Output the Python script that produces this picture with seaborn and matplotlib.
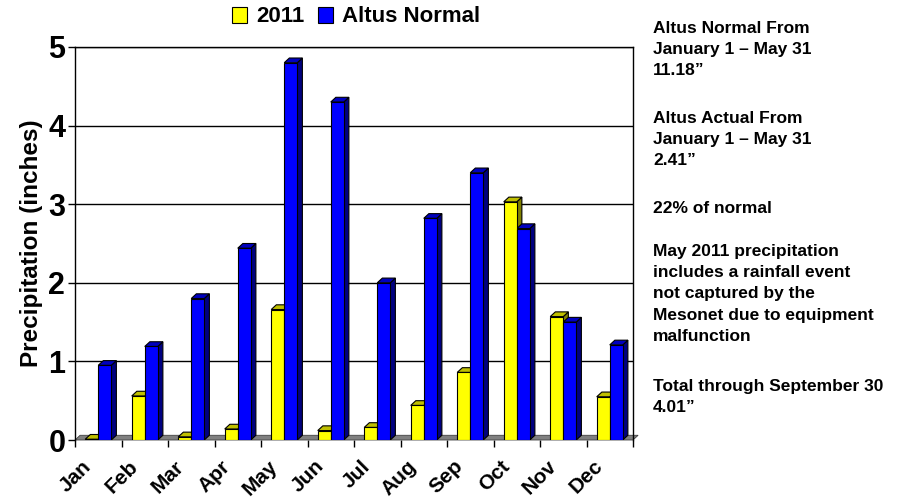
import numpy as np
import pandas as pd
import seaborn as sns
import matplotlib.pyplot as plt
import matplotlib.transforms as mtransforms
from matplotlib.patches import Polygon, Patch
from matplotlib.colors import to_rgb

# monthly precipitation at Altus (inches)
months = ['Jan', 'Feb', 'Mar', 'Apr', 'May', 'Jun',
          'Jul', 'Aug', 'Sep', 'Oct', 'Nov', 'Dec']
precip_2011 = [0.01, 0.56, 0.04, 0.14, 1.66, 0.12, 0.16, 0.44, 0.86, 3.03, 1.57, 0.55]
altus_normal = [0.95, 1.19, 1.80, 2.44, 4.80, 4.30, 2.00, 2.82, 3.40, 2.69, 1.50, 1.21]
series = ['2011', 'Altus Normal']
colors_ = ['#FFFF00', '#0000FF']

notes = [
    "Altus Normal From\nJanuary 1 \u2013 May 31\n11.18\u201d",
    "Altus Actual From\nJanuary 1 \u2013 May 31\n2.41\u201d",
    "22% of normal",
    "May 2011 precipitation\nincludes a rainfall event\nnot captured by the\nMesonet due to equipment\nmalfunction",
    "Total through September 30\n4.01\u201d",
]
note_tops = [21, 111, 201, 244, 379]   # pixel rows of each paragraph

df = pd.DataFrame({
    'Month': months * 2,
    'Precip': precip_2011 + altus_normal,
    'Series': [series[0]] * 12 + [series[1]] * 12,
})

sns.set_style('white')
plt.rcParams['font.family'] = ['Liberation Sans', 'DejaVu Sans']
plt.rcParams['font.weight'] = 'bold'
for k in ['text.color', 'axes.labelcolor', 'xtick.color', 'ytick.color']:
    plt.rcParams[k] = 'black'

W, H = 903, 501
fig = plt.figure(figsize=(W / 100, H / 100), dpi=100)
ax = fig.add_axes([75 / W, 1 - 440 / H, (633 - 75) / W, (440 - 47) / H])

sns.barplot(data=df, x='Month', y='Precip', hue='Series', palette=colors_,
            width=0.56, gap=0, edgecolor='black', linewidth=0.8,
            saturation=1, legend=False, ax=ax, zorder=3)

ax.set_xlim(-0.5, 11.5)
ax.set_ylim(0, 5)

# fake 3D depth for each bar
dx, dy = 0.11, 0.06
for p in list(ax.patches):
    x0, w, h = p.get_x(), p.get_width(), p.get_height()
    if np.isnan(h):
        continue
    base = np.array(to_rgb(p.get_facecolor()))
    side = Polygon([(x0 + w, 0), (x0 + w + dx, dy), (x0 + w + dx, h + dy), (x0 + w, h)],
                   closed=True, facecolor=base * 0.5, edgecolor='black', lw=0.8, zorder=2.9)
    top = Polygon([(x0, h), (x0 + dx, h + dy), (x0 + w + dx, h + dy), (x0 + w, h)],
                  closed=True, facecolor=base * 0.75, edgecolor='black', lw=0.8, zorder=2.9)
    ax.add_patch(side)
    ax.add_patch(top)

# floor strip
ax.add_patch(Polygon([(-0.5, 0), (-0.5 + dx, dy), (11.5 + dx, dy), (11.5, 0)],
                     closed=True, facecolor='#808080', edgecolor='#404040', lw=0.6,
                     zorder=1, clip_on=False))

ax.yaxis.grid(True, color='black', lw=1)
ax.set_axisbelow(True)
for s in ['top', 'right', 'left']:
    ax.spines[s].set_color('black')
    ax.spines[s].set_linewidth(1)
ax.spines['bottom'].set_visible(False)

ax.set_yticks([0, 1, 2, 3, 4, 5])
ax.set_yticklabels(['0', '1', '2', '3', '4', '5'], fontsize=22, fontweight='bold')
ax.tick_params(axis='y', direction='out', length=5, width=1, color='black', left=True, pad=2)

ax.set_xticks(np.arange(12))
ax.set_xticklabels(months, fontsize=15, fontweight='bold', rotation=45,
                   ha='right', rotation_mode='anchor')
ax.set_xticks(np.arange(-0.5, 12, 1), minor=True)
ax.tick_params(axis='x', which='major', length=0, pad=12)
ax.tick_params(axis='x', which='minor', direction='out', length=5, width=1,
               color='black', bottom=True)
shift = mtransforms.ScaledTranslation(-12 / 72, 0, fig.dpi_scale_trans)
for lbl in ax.get_xticklabels():
    lbl.set_transform(lbl.get_transform() + shift)

ax.set_xlabel('')
ax.set_ylabel('Precipitation (inches)', fontsize=17.5, fontweight='bold', labelpad=4)

handles = [Patch(facecolor=c, edgecolor='black', lw=0.8) for c in colors_]
fig.legend(handles, series, loc='center', bbox_to_anchor=(356 / W, 1 - 17 / H),
           ncol=2, frameon=False, prop={'size': 16, 'weight': 'bold'},
           handlelength=0.7, handleheight=0.7, handletextpad=0.4, columnspacing=0.6)

for txt, top in zip(notes, note_tops):
    fig.text(653 / W, 1 - top / H, txt, fontsize=12.5, fontweight='bold',
             va='top', ha='left', linespacing=1.52)

fig.savefig('out.png', dpi=100)
